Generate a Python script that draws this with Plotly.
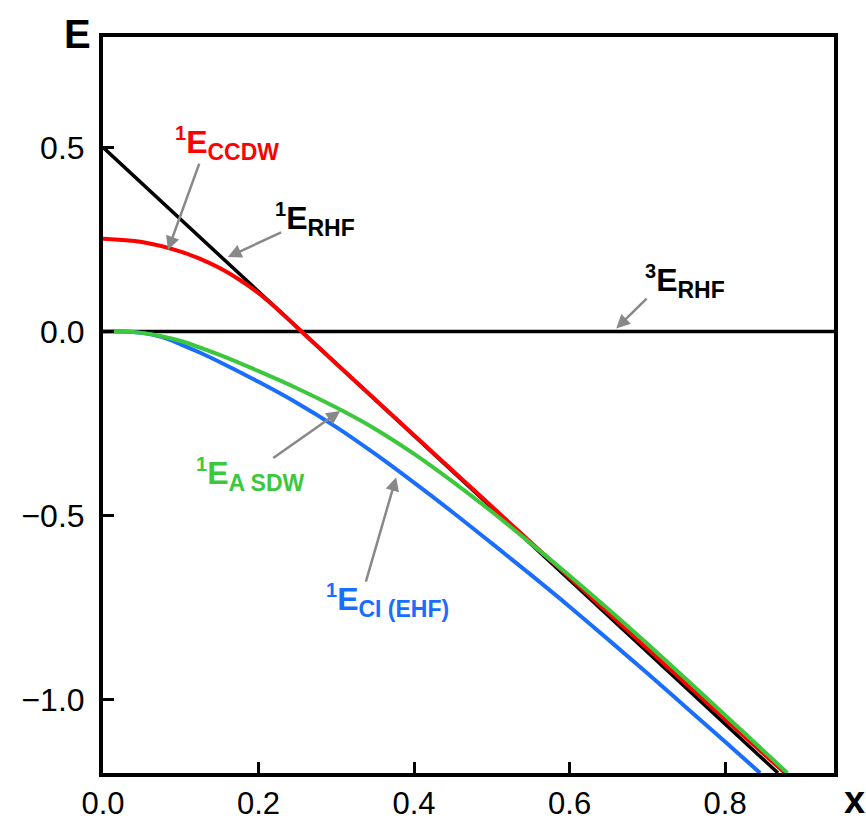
import plotly.graph_objects as go

# ---------------- data ----------------
x_rhf = [0.0, 0.1, 0.2, 0.3, 0.4, 0.5, 0.6, 0.7, 0.8, 0.868]
e_rhf = [0.5, 0.304, 0.108, -0.088, -0.284, -0.48, -0.676, -0.872, -1.068, -1.2]

x_ccdw = [0.0, 0.05, 0.1, 0.125, 0.15, 0.175, 0.2, 0.225, 0.25, 0.3, 0.4, 0.5, 0.6, 0.7, 0.8, 0.877]
e_ccdw = [0.252, 0.243, 0.217, 0.197, 0.172, 0.141, 0.104, 0.059, 0.010, -0.088, -0.282, -0.476, -0.669, -0.862, -1.054, -1.2]

x_asdw = [0.0, 0.025, 0.05, 0.075, 0.1, 0.15, 0.2, 0.25, 0.3, 0.35, 0.4, 0.45, 0.5, 0.55, 0.6, 0.65, 0.7, 0.75, 0.8, 0.85, 0.88]
e_asdw = [0.0, 0.0, -0.004, -0.013, -0.026, -0.064, -0.108, -0.155, -0.207, -0.265, -0.333, -0.409, -0.49, -0.576, -0.664, -0.755, -0.849, -0.945, -1.043, -1.141, -1.2]

x_ci = [0.0, 0.025, 0.05, 0.075, 0.1, 0.125, 0.15, 0.2, 0.25, 0.3, 0.35, 0.4, 0.45, 0.5, 0.55, 0.6, 0.65, 0.7, 0.75, 0.8, 0.845]
e_ci = [0.0, 0.0, -0.004, -0.015, -0.035, -0.058, -0.083, -0.137, -0.195, -0.260, -0.333, -0.411, -0.492, -0.576, -0.661, -0.748, -0.838, -0.929, -1.022, -1.115, -1.2]

x_trip = [0.0, 0.94]
e_trip = [0.0, 0.0]

x_tickvals = [0.0, 0.2, 0.4, 0.6, 0.8]
x_ticktext = ["0.0", "0.2", "0.4", "0.6", "0.8"]
y_tickvals = [0.5, 0.0, -0.5, -1.0]
y_ticktext = ["0.5", "0.0", "\u22120.5", "\u22121.0"]

# labels: (superscript, subscript, colour, text-x, text-y, head-x, head-y, tail-x, tail-y)
labels = [
    ("1", "CCDW", "#ff0000", 0.160, 0.510, 0.0835, 0.221, 0.1245, 0.460),
    ("1", "RHF", "#000000", 0.272, 0.305, 0.1605, 0.202, 0.231, 0.271),
    ("3", "RHF", "#000000", 0.748, 0.136, 0.660, 0.008, 0.701, 0.093),
    ("1", "A SDW", "#3cc83c", 0.190, -0.388, 0.305, -0.216, 0.217, -0.347),
    ("1", "CI (EHF)", "#1a6eff", 0.366, -0.730, 0.377, -0.396, 0.3375, -0.684),
]

FONT = "Liberation Sans, Arial, sans-serif"

fig = go.Figure()
fig.add_trace(go.Scatter(x=x_trip, y=e_trip, mode="lines",
                         line=dict(color="black", width=3.5)))
fig.add_trace(go.Scatter(x=x_rhf, y=e_rhf, mode="lines",
                         line=dict(color="black", width=3.5)))
fig.add_trace(go.Scatter(x=x_ccdw, y=e_ccdw, mode="lines", line_shape="spline",
                         line=dict(color="#ff0000", width=4)))
fig.add_trace(go.Scatter(x=x_ci, y=e_ci, mode="lines", line_shape="spline",
                         line=dict(color="#1a6eff", width=4)))
fig.add_trace(go.Scatter(x=x_asdw, y=e_asdw, mode="lines", line_shape="spline",
                         line=dict(color="#3cc83c", width=4)))

annotations = []
for sup, sub, col, tx, ty, hx, hy, ax, ay in labels:
    txt = ("<b><sup><span style='font-size:20px'>" + sup + "</span></sup>E"
           "<sub><span style='font-size:23px'>" + sub + "</span></sub></b>")
    annotations.append(dict(x=tx, y=ty, xref="x", yref="y", text=txt,
                            showarrow=False, font=dict(family=FONT, size=32, color=col),
                            xanchor="center", yanchor="middle"))
    annotations.append(dict(x=hx, y=hy, xref="x", yref="y", ax=ax, ay=ay,
                            axref="x", ayref="y", text="", showarrow=True,
                            arrowhead=2, arrowsize=1.1, arrowwidth=2.5,
                            arrowcolor="#888888"))

annotations.append(dict(x=0.0, y=1.0, xref="paper", yref="paper", text="<b>E</b>",
                        showarrow=False, font=dict(family=FONT, size=40, color="black"),
                        xanchor="right", yanchor="middle", xshift=-10, yshift=3))
annotations.append(dict(x=1.0, y=0.0, xref="paper", yref="paper", text="<b>x</b>",
                        showarrow=False, font=dict(family=FONT, size=38, color="black"),
                        xanchor="left", yanchor="top", xshift=8, yshift=-4))

fig.update_layout(
    width=866, height=820,
    margin=dict(l=103, r=32, t=37, b=47, autoexpand=False),
    paper_bgcolor="white", plot_bgcolor="white",
    showlegend=False,
    annotations=annotations,
    font=dict(family=FONT, size=30, color="black"),
)
fig.update_xaxes(range=[0, 0.94], tickvals=x_tickvals, ticktext=x_ticktext,
                 ticks="inside", ticklen=11, tickwidth=3, tickcolor="black",
                 showline=True, linecolor="black", linewidth=4, mirror=True,
                 showgrid=False, zeroline=False, ticklabelstandoff=0,
                 automargin=False,
                 tickfont=dict(family=FONT, size=31, color="black"))
fig.update_yaxes(range=[-1.2, 0.8], tickvals=y_tickvals, ticktext=y_ticktext,
                 ticks="inside", ticklen=11, tickwidth=3, tickcolor="black",
                 showline=True, linecolor="black", linewidth=4, mirror=True,
                 showgrid=False, zeroline=False, ticklabelstandoff=8,
                 automargin=False,
                 tickfont=dict(family=FONT, size=32, color="black"))

fig.write_html("out.html")
